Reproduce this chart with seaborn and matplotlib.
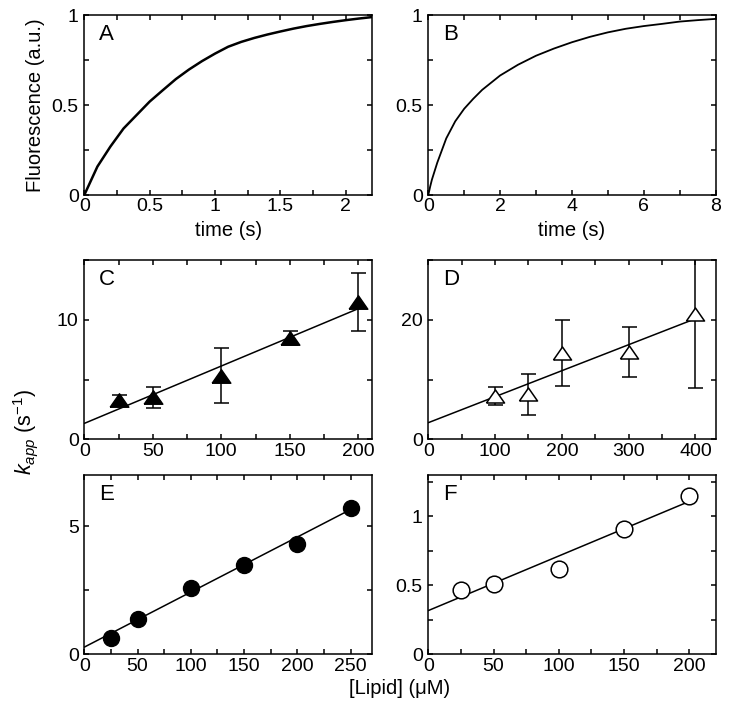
import numpy as np
import seaborn as sns
import matplotlib
matplotlib.use('Agg')
import matplotlib.pyplot as plt
from matplotlib.ticker import MultipleLocator, FuncFormatter

# panel A: stopped-flow trace, short time base
time_a = [0, 0.1, 0.2, 0.3, 0.4, 0.5, 0.6, 0.7, 0.8, 0.9, 1.0, 1.1, 1.2,
          1.3, 1.4, 1.5, 1.6, 1.7, 1.8, 1.9, 2.0, 2.1, 2.2]
fluor_a = [0, 0.158, 0.27, 0.37, 0.445, 0.52, 0.583, 0.645, 0.698, 0.745, 0.787,
           0.825, 0.852, 0.874, 0.893, 0.91, 0.926, 0.94, 0.952, 0.963, 0.973,
           0.982, 0.99]

# panel B: trace, long time base
time_b = [0, 0.05, 0.1, 0.25, 0.5, 0.75, 1.0, 1.25, 1.5, 2.0, 2.5, 3.0, 3.5,
          4.0, 4.5, 5.0, 5.5, 6.0, 6.5, 7.0, 7.5, 8.0]
fluor_b = [0, 0.045, 0.085, 0.18, 0.315, 0.41, 0.48, 0.535, 0.585, 0.665, 0.725,
           0.775, 0.815, 0.85, 0.88, 0.905, 0.925, 0.94, 0.952, 0.965, 0.973,
           0.98]

# panel C
lipid_c = [25, 50, 100, 150, 200]
kapp_c = [3.27, 3.5, 5.3, 8.45, 11.5]
err_c = [0.45, 0.9, 2.3, 0.6, 2.4]
fit_c = [1.33, 0.048]  # intercept, slope

# panel D
lipid_d = [100, 150, 200, 300, 400]
kapp_d = [7.25, 7.5, 14.45, 14.6, 21.0]
err_d = [1.45, 3.4, 5.55, 4.2, 12.5]
fit_d = [2.78, 0.0435]

# panel E
lipid_e = [25, 50, 100, 150, 200, 250]
kapp_e = [0.65, 1.375, 2.57, 3.5, 4.3, 5.71]
fit_e = [0.28, 0.0215]

# panel F
lipid_f = [25, 50, 100, 150, 200]
kapp_f = [0.467, 0.508, 0.62, 0.91, 1.15]
fit_f = [0.317, 0.00396]

sns.set_theme(style='ticks')
plt.rcParams['font.family'] = ['Liberation Sans', 'DejaVu Sans']
plt.rcParams.update({
    'font.size': 13.5,
    'axes.linewidth': 1.1,
    'axes.edgecolor': 'black',
    'axes.labelcolor': 'black',
    'text.color': 'black',
    'xtick.color': 'black',
    'ytick.color': 'black',
    'xtick.labelsize': 14,
    'ytick.labelsize': 14,
    'axes.labelsize': 14.5,
    'mathtext.fontset': 'custom',
    'mathtext.rm': 'Liberation Sans',
    'mathtext.it': 'Liberation Sans:italic',
})

W, H = 729, 719
fig = plt.figure(figsize=(W / 100, H / 100), dpi=100)


def make_ax(left, top, right, bottom):
    return fig.add_axes([left / W, 1 - bottom / H, (right - left) / W, (bottom - top) / H])


def style_ax(ax, xlim, ylim, xmaj, xmin, ymaj, ymin, letter):
    ax.set_xlim(*xlim)
    ax.set_ylim(*ylim)
    ax.xaxis.set_major_locator(MultipleLocator(xmaj))
    ax.xaxis.set_minor_locator(MultipleLocator(xmin))
    ax.yaxis.set_major_locator(MultipleLocator(ymaj))
    ax.yaxis.set_minor_locator(MultipleLocator(ymin))
    fmt = FuncFormatter(lambda v, p: f'{v:g}')
    ax.xaxis.set_major_formatter(fmt)
    ax.yaxis.set_major_formatter(fmt)
    ax.tick_params(which='both', direction='in', top=True, right=True,
                   length=3.6, width=1.1)
    ax.tick_params(axis='x', pad=2.5)
    ax.tick_params(axis='y', pad=4)
    ax.set_xlabel('')
    ax.set_ylabel('')
    ax.text(0.05, 0.95, letter, transform=ax.transAxes, va='top', ha='left',
            fontsize=16)


tri = [(-1, -0.72), (1, -0.72), (0, 0.72), (-1, -0.72)]

# --- A
ax_a = make_ax(84.3, 15.3, 372, 195)
sns.lineplot(x=time_a, y=fluor_a, ax=ax_a, color='black', lw=1.8, estimator=None)
style_ax(ax_a, (0, 2.2), (0, 1), 0.5, 0.25, 0.5, 0.25, 'A')
ax_a.set_xlabel('time (s)', labelpad=4)
ax_a.set_ylabel('Fluorescence (a.u.)', labelpad=5)

# --- B
ax_b = make_ax(428.3, 15.3, 715.5, 195)
sns.lineplot(x=time_b, y=fluor_b, ax=ax_b, color='black', lw=1.3, estimator=None)
style_ax(ax_b, (0, 8), (0, 1), 2, 1, 0.5, 0.25, 'B')
ax_b.set_xlabel('time (s)', labelpad=4)

# --- C
ax_c = make_ax(84.3, 260, 372, 439.3)
xc = np.array([0, max(lipid_c)])
sns.lineplot(x=xc, y=fit_c[0] + fit_c[1] * xc, ax=ax_c, color='black', lw=1.1)
ax_c.errorbar(lipid_c, kapp_c, yerr=err_c, fmt='none', ecolor='black',
              elinewidth=1.1, capsize=5.4, capthick=1.1, zorder=2)
sns.scatterplot(x=lipid_c, y=kapp_c, ax=ax_c, marker=tri, s=13.5 ** 2,
                color='black', edgecolor='black', linewidth=1.0, zorder=3)
style_ax(ax_c, (0, 210), (0, 15), 50, 25, 10, 5, 'C')

# --- D
ax_d = make_ax(428.3, 260, 715.5, 439.3)
xd = np.array([0, max(lipid_d)])
sns.lineplot(x=xd, y=fit_d[0] + fit_d[1] * xd, ax=ax_d, color='black', lw=1.1)
ax_d.errorbar(lipid_d, kapp_d, yerr=err_d, fmt='none', ecolor='black',
              elinewidth=1.1, capsize=5.4, capthick=1.1, zorder=2)
sns.scatterplot(x=lipid_d, y=kapp_d, ax=ax_d, marker=tri, s=13 ** 2,
                color='white', edgecolor='black', linewidth=1.1, zorder=3)
style_ax(ax_d, (0, 430), (0, 30), 100, 50, 20, 10, 'D')

# --- E
ax_e = make_ax(84.3, 475, 372, 654.3)
xe = np.array([0, max(lipid_e)])
sns.lineplot(x=xe, y=fit_e[0] + fit_e[1] * xe, ax=ax_e, color='black', lw=1.1)
sns.scatterplot(x=lipid_e, y=kapp_e, ax=ax_e, marker='o', s=11.5 ** 2,
                color='black', edgecolor='black', linewidth=1.0, zorder=3)
style_ax(ax_e, (0, 270), (0, 7), 50, 25, 5, 2.5, 'E')

# --- F
ax_f = make_ax(428.3, 475, 715.5, 654.3)
xf = np.array([0, max(lipid_f)])
sns.lineplot(x=xf, y=fit_f[0] + fit_f[1] * xf, ax=ax_f, color='black', lw=1.1)
sns.scatterplot(x=lipid_f, y=kapp_f, ax=ax_f, marker='o', s=12 ** 2,
                color='white', edgecolor='black', linewidth=1.1, zorder=3)
style_ax(ax_f, (0, 220), (0, 1.3), 50, 25, 0.5, 0.25, 'F')

fig.text(26 / W, 1 - 432 / H, r'$k_{app}$ (s$^{-1}$)', rotation=90,
         ha='center', va='center', fontsize=15.5)
fig.text(400 / W, 1 - 688 / H, '[Lipid] (\u03bcM)', ha='center', va='center',
         fontsize=14.5)

fig.savefig('out.png', dpi=100)
